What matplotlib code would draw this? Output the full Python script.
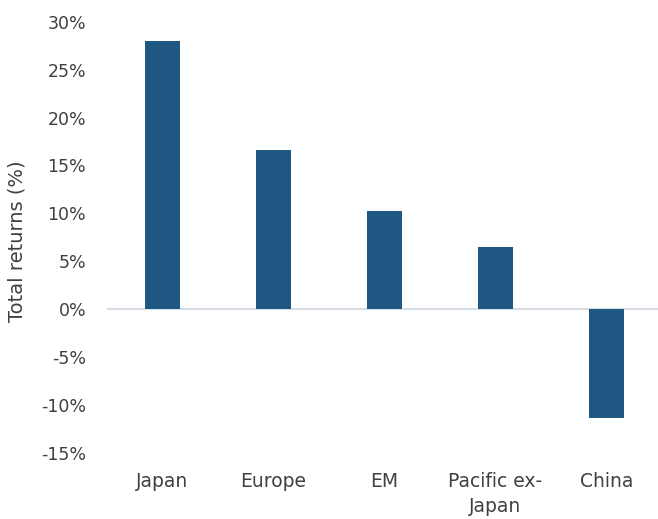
import matplotlib
matplotlib.use("Agg")
import matplotlib.pyplot as plt
from matplotlib.ticker import FuncFormatter

# data
regions = ["Japan", "Europe", "EM", "Pacific ex-\nJapan", "China"]
total_returns = [28.0, 16.6, 10.3, 6.5, -11.3]
y_ticks = [-15, -10, -5, 0, 5, 10, 15, 20, 25, 30]

bar_color = "#1F5783"
text_color = "#404040"

plt.rcParams["font.family"] = ["DejaVu Sans"]

fig = plt.figure(figsize=(6.58, 5.19), dpi=100)
ax = fig.add_axes([107 / 658, (519 - 453) / 519, 555 / 658, (453 - 21.7) / 519])

x = range(len(regions))
ax.bar(x, total_returns, width=0.32, color=bar_color, zorder=2)

ax.set_xlim(-0.5, len(regions) - 0.5)
ax.set_ylim(-15, 30)
ax.set_yticks(y_ticks)
ax.yaxis.set_major_formatter(FuncFormatter(lambda v, p: f"{v:.0f}%"))
ax.set_xticks(list(x))
ax.set_xticklabels(regions, fontsize=13.5, linespacing=1.4)

ax.axhline(0, color="#D9DEE5", lw=1.6, zorder=1)

for s in ax.spines.values():
    s.set_visible(False)
ax.tick_params(axis="both", length=0, colors=text_color)
ax.tick_params(axis="y", labelsize=12.5, pad=15)
ax.tick_params(axis="x", pad=14)

ax.set_ylabel("Total returns (%)", fontsize=14, color=text_color)
ax.yaxis.set_label_coords(-0.145, 0.49)

fig.savefig("out.png", dpi=100)
